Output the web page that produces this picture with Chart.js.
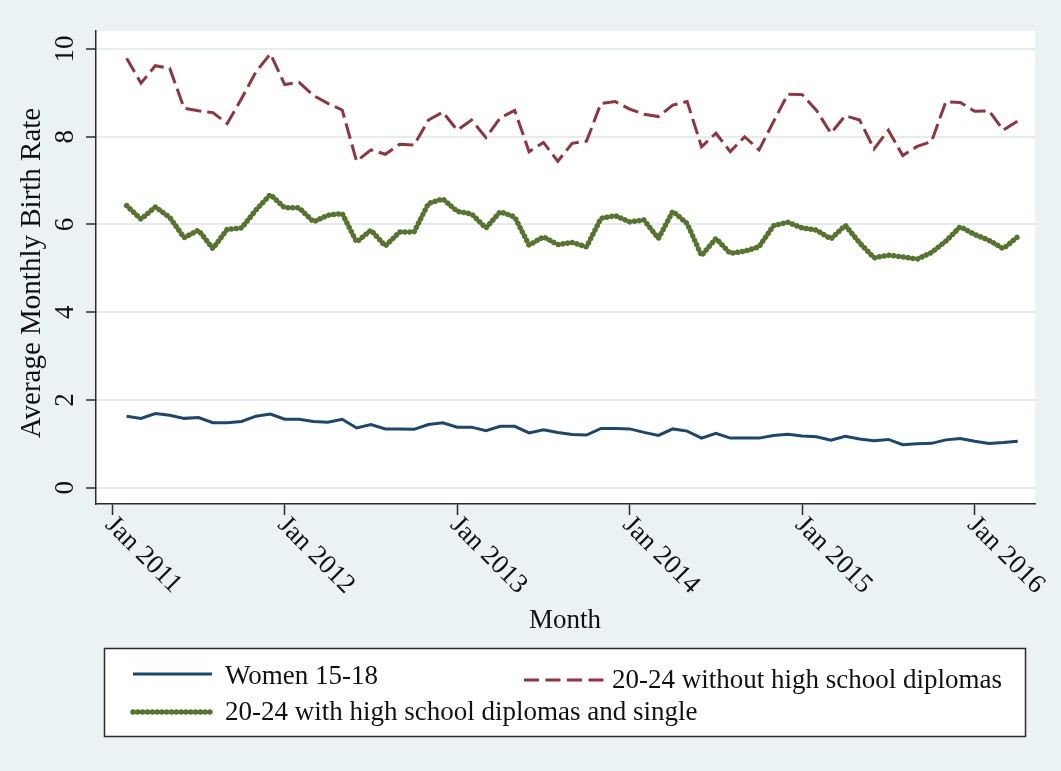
<!DOCTYPE html>
<html>
<head>
<meta charset="utf-8">
<title>Average Monthly Birth Rate</title>
<script src="https://cdn.jsdelivr.net/npm/chart.js@4.4.1/dist/chart.umd.min.js"></script>
<style>
  html, body { margin: 0; padding: 0; background: #EAF2F3; }
  canvas { display: block; }
</style>
</head>
<body>
<canvas id="chart" width="1061" height="771"></canvas>
<script>
// Months observed (Feb 2011 – Apr 2016)
const months = [
  '2011-02','2011-03','2011-04','2011-05','2011-06','2011-07','2011-08','2011-09','2011-10','2011-11','2011-12',
  '2012-01','2012-02','2012-03','2012-04','2012-05','2012-06','2012-07','2012-08','2012-09','2012-10','2012-11','2012-12',
  '2013-01','2013-02','2013-03','2013-04','2013-05','2013-06','2013-07','2013-08','2013-09','2013-10','2013-11','2013-12',
  '2014-01','2014-02','2014-03','2014-04','2014-05','2014-06','2014-07','2014-08','2014-09','2014-10','2014-11','2014-12',
  '2015-01','2015-02','2015-03','2015-04','2015-05','2015-06','2015-07','2015-08','2015-09','2015-10','2015-11','2015-12',
  '2016-01','2016-02','2016-03','2016-04'
];

// Average monthly birth rate by group
const women15to18 = [
  1.63, 1.58, 1.69, 1.65, 1.58, 1.60, 1.48, 1.48, 1.51, 1.63,
  1.68, 1.56, 1.56, 1.51, 1.49, 1.56, 1.36, 1.44, 1.34, 1.34,
  1.33, 1.44, 1.48, 1.38, 1.38, 1.30, 1.40, 1.40, 1.25, 1.32,
  1.26, 1.21, 1.20, 1.35, 1.35, 1.34, 1.26, 1.19, 1.34, 1.29,
  1.13, 1.24, 1.13, 1.13, 1.13, 1.19, 1.22, 1.18, 1.16, 1.08,
  1.17, 1.11, 1.07, 1.10, 0.98, 1.00, 1.01, 1.09, 1.12, 1.06,
  1.01, 1.03, 1.06
];
const noDiploma20to24 = [
  9.79, 9.22, 9.62, 9.56, 8.65, 8.59, 8.55, 8.30, 8.87, 9.48,
  9.89, 9.19, 9.24, 8.94, 8.76, 8.61, 7.44, 7.70, 7.60, 7.83,
  7.81, 8.38, 8.56, 8.15, 8.38, 7.98, 8.43, 8.60, 7.66, 7.87,
  7.44, 7.85, 7.90, 8.76, 8.80, 8.63, 8.51, 8.46, 8.72, 8.80,
  7.77, 8.08, 7.66, 8.00, 7.70, 8.34, 8.97, 8.96, 8.60, 8.08,
  8.48, 8.38, 7.72, 8.15, 7.57, 7.78, 7.89, 8.80, 8.78, 8.58,
  8.59, 8.15, 8.36
];
const diplomaSingle20to24 = [
  6.43, 6.12, 6.40, 6.16, 5.70, 5.87, 5.45, 5.89, 5.92, 6.33,
  6.68, 6.38, 6.38, 6.06, 6.21, 6.25, 5.60, 5.87, 5.51, 5.83,
  5.83, 6.48, 6.58, 6.30, 6.24, 5.92, 6.29, 6.17, 5.53, 5.72,
  5.54, 5.59, 5.49, 6.14, 6.20, 6.06, 6.10, 5.68, 6.30, 6.02,
  5.29, 5.68, 5.34, 5.39, 5.49, 5.97, 6.05, 5.92, 5.87, 5.67,
  5.98, 5.58, 5.24, 5.30, 5.26, 5.21, 5.36, 5.62, 5.95, 5.77,
  5.64, 5.45, 5.72
];

// Axis ticks
const xTickLabels = ['Jan 2011', 'Jan 2012', 'Jan 2013', 'Jan 2014', 'Jan 2015', 'Jan 2016'];
const yTickValues = [0, 2, 4, 6, 8, 10];
const yTickLabels = ['0', '2', '4', '6', '8', '10'];

const seriesNames = ['Women 15-18', '20-24 without high school diplomas', '20-24 with high school diplomas and single'];

// Months are placed on a linear axis counted from Jan 2011
const MONTH_NAMES = ['Jan','Feb','Mar','Apr','May','Jun','Jul','Aug','Sep','Oct','Nov','Dec'];
function monthOffset(year, month) { return (year - 2011) * 12 + (month - 1); }
function isoToOffset(s) { const [y, m] = s.split('-').map(Number); return monthOffset(y, m); }
function labelToOffset(s) { const [mn, y] = s.split(' '); return monthOffset(Number(y), MONTH_NAMES.indexOf(mn) + 1); }

function toPoints(values) { return values.map((v, i) => ({ x: isoToOffset(months[i]), y: v })); }
const xTickValues = xTickLabels.map(labelToOffset);

const SERIF = '"Liberation Serif", "Times New Roman", serif';
const INK = '#111111';
const AXIS = '#2b2b2b';

// Page background and white plot region
const backgroundPlugin = {
  id: 'regions',
  beforeDraw(chart) {
    const { ctx, chartArea: a } = chart;
    ctx.save();
    ctx.fillStyle = '#EAF2F3';
    ctx.fillRect(0, 0, chart.width, chart.height);
    ctx.fillStyle = '#FFFFFF';
    ctx.fillRect(a.left, a.top, a.right - a.left, a.bottom - a.top);
    ctx.restore();
  }
};

// Rotated tick labels, axis titles and the boxed legend
const textPlugin = {
  id: 'texts',
  afterDraw(chart) {
    const { ctx } = chart;
    const xs = chart.scales.x, ys = chart.scales.y;
    ctx.save();
    ctx.fillStyle = INK;

    // y tick labels, vertical
    ctx.font = '27px ' + SERIF;
    ctx.textAlign = 'center';
    ctx.textBaseline = 'alphabetic';
    yTickValues.forEach((v, i) => {
      const py = ys.getPixelForValue(v);
      ctx.save();
      ctx.translate(73, py);
      ctx.rotate(-Math.PI / 2);
      ctx.fillText(yTickLabels[i], 0, 0);
      ctx.restore();
    });

    // x tick labels, slanted down to the right
    ctx.textAlign = 'left';
    ctx.textBaseline = 'middle';
    xTickLabels.forEach((lab, i) => {
      const px = xs.getPixelForValue(xTickValues[i]);
      ctx.save();
      ctx.translate(px - 3, 521);
      ctx.rotate(Math.PI / 4);
      ctx.fillText(lab, 0, 0);
      ctx.restore();
    });

    // axis titles
    ctx.textAlign = 'center';
    ctx.textBaseline = 'alphabetic';
    ctx.fillText('Month', 565, 628);
    ctx.save();
    ctx.font = '29px ' + SERIF;
    ctx.translate(39.5, 273);
    ctx.rotate(-Math.PI / 2);
    ctx.fillText('Average Monthly Birth Rate', 0, 0);
    ctx.restore();

    // legend box
    ctx.fillStyle = '#FFFFFF';
    ctx.fillRect(104.5, 648.5, 921, 88);
    ctx.strokeStyle = AXIS;
    ctx.lineWidth = 1.5;
    ctx.strokeRect(104.5, 648.5, 921, 88);

    const entries = [
      { ds: 0, x1: 133, x2: 212, y: 674, tx: 225, ty: 677 },
      { ds: 1, x1: 524, x2: 603.5, y: 680, tx: 612, ty: 681 },
      { ds: 2, x1: 133, x2: 210, y: 712, tx: 225, ty: 713 }
    ];
    entries.forEach(e => {
      const d = chart.data.datasets[e.ds];
      ctx.save();
      ctx.strokeStyle = d.borderColor;
      ctx.lineWidth = d.borderWidth;
      ctx.lineCap = d.borderCapStyle || 'butt';
      ctx.setLineDash(d.legendDash || d.borderDash || []);
      ctx.beginPath();
      ctx.moveTo(e.x1, e.y);
      ctx.lineTo(e.x2, e.y);
      ctx.stroke();
      ctx.restore();
      ctx.fillStyle = INK;
      ctx.font = '27px ' + SERIF;
      ctx.textAlign = 'left';
      ctx.textBaseline = 'middle';
      ctx.fillText(d.label, e.tx, e.ty);
    });
    ctx.restore();
  }
};

new Chart(document.getElementById('chart'), {
  type: 'line',
  data: {
    datasets: [
      {
        label: seriesNames[0],
        data: toPoints(women15to18),
        borderColor: '#1A476F',
        borderWidth: 3,
        borderCapStyle: 'butt',
        pointRadius: 0,
        tension: 0
      },
      {
        label: seriesNames[1],
        data: toPoints(noDiploma20to24),
        borderColor: '#90353B',
        borderWidth: 3,
        borderDash: [16, 6],
        legendDash: [15, 6.5],
        borderCapStyle: 'butt',
        pointRadius: 0,
        tension: 0
      },
      {
        label: seriesNames[2],
        data: toPoints(diplomaSingle20to24),
        borderColor: '#55752F',
        borderWidth: 5.5,
        borderDash: [0.01, 4.8],
        borderCapStyle: 'round',
        borderJoinStyle: 'round',
        pointRadius: 0,
        tension: 0
      }
    ]
  },
  options: {
    responsive: false,
    animation: false,
    events: [],
    layout: { padding: { left: 0, top: 31, right: 26, bottom: 0 } },
    plugins: { legend: { display: false }, tooltip: { enabled: false } },
    scales: {
      x: {
        type: 'linear',
        min: -1.13,
        max: 64.2,
        afterBuildTicks: s => { s.ticks = xTickValues.map(v => ({ value: v })); },
        afterFit: s => { s.height = 267; },
        ticks: { display: false },
        grid: { drawOnChartArea: false, drawTicks: true, tickLength: 11, tickColor: AXIS, tickWidth: 1.5 },
        border: { display: true, color: AXIS, width: 1.5 }
      },
      y: {
        type: 'linear',
        min: -0.372,
        max: 10.41,
        afterBuildTicks: s => { s.ticks = yTickValues.map(v => ({ value: v })); },
        afterFit: s => { s.width = 96; },
        ticks: { display: false },
        grid: { color: '#E3ECEF', lineWidth: 2, drawTicks: true, tickLength: 10, tickColor: AXIS, tickWidth: 1.5 },
        border: { display: true, color: AXIS, width: 1.5 }
      }
    }
  },
  plugins: [backgroundPlugin, textPlugin]
});
</script>
</body>
</html>
